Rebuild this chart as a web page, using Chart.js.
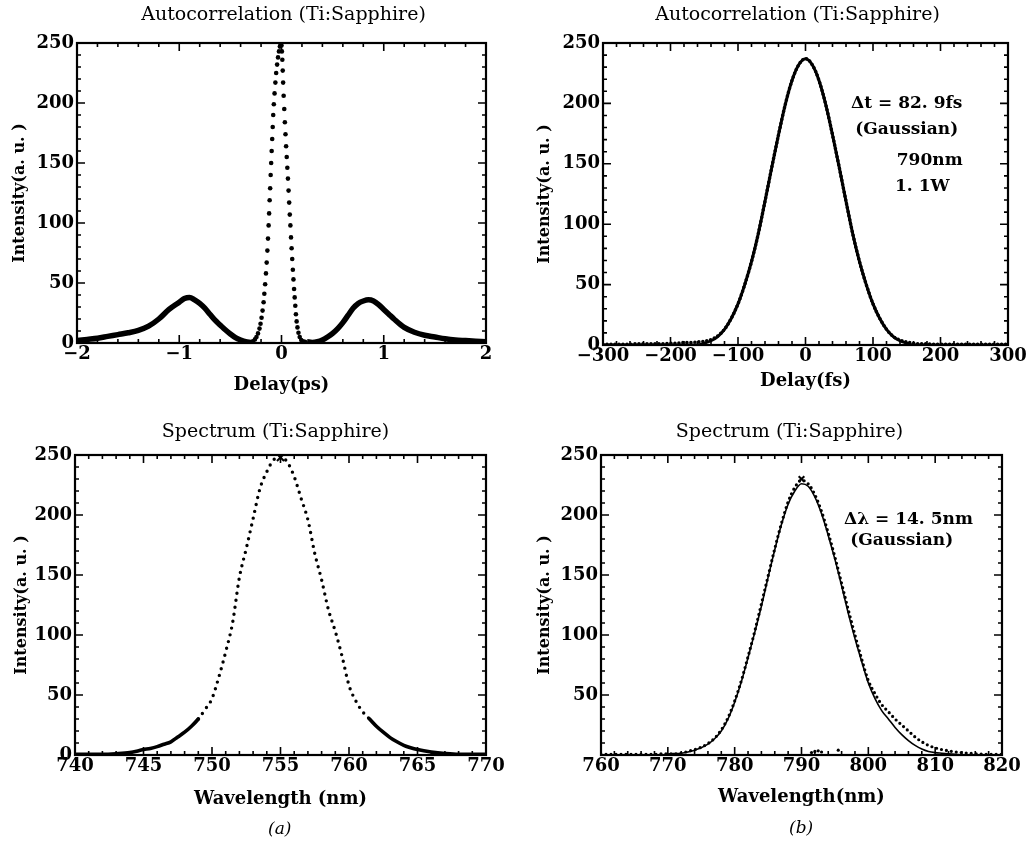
<!DOCTYPE html>
<html>
<head>
<meta charset="utf-8">
<script src="https://cdn.jsdelivr.net/npm/chart.js@4"></script>
<style>
  body { margin: 0; background: #fff; width: 1027px; height: 846px; position: relative; overflow: hidden; }
  .panel { position: absolute; }
  .cap { position: absolute; font: italic 17px "DejaVu Serif", serif; color: #000; }
</style>
</head>
<body>
<div class="panel" style="left:0;top:0"><canvas id="acPs" width="510" height="400"></canvas></div>
<div class="panel" style="left:520px;top:0"><canvas id="acFs" width="507" height="400"></canvas></div>
<div class="panel" style="left:0;top:410px"><canvas id="specA" width="515" height="436"></canvas></div>
<div class="panel" style="left:520px;top:410px"><canvas id="specB" width="507" height="436"></canvas></div>
<div class="cap" style="left:268px;top:818px">(a)</div>
<div class="cap" style="left:789px;top:817px">(b)</div>
<script>
// --- (a) autocorrelation, delay in ps ---
const acLobeLDelay = [-2.0,-1.9,-1.8,-1.7,-1.6,-1.5,-1.4,-1.3,-1.2,-1.1,-1.0,-0.95,-0.9,-0.85,-0.8,-0.75,-0.7,-0.65,-0.6,-0.55,-0.5,-0.45,-0.4,-0.35,-0.3];
const acLobeLInt = [2,3,4,5.5,7,8.5,10.5,14,20,28,34,37,38,36,33,29,24,19,15,11,7.5,4.5,2.5,1,0.5];
const acLobeRDelay = [0.25,0.3,0.35,0.4,0.45,0.5,0.55,0.6,0.65,0.7,0.75,0.8,0.85,0.9,0.95,1.0,1.05,1.1,1.2,1.3,1.4,1.5,1.6,1.7,1.8,1.9,2.0];
const acLobeRInt = [1,0.5,1,2.5,5,8,12,17,23,29,33,35,36,35,32,28,24,20,13,9,6.5,5,3.5,2.5,2,1.5,1];
const acPeakLDelay = [-0.30,-0.28,-0.26,-0.245,-0.23,-0.215,-0.205,-0.195,-0.185,-0.175,-0.168,-0.16,-0.152,-0.145,-0.138,-0.132,-0.126,-0.121,-0.116,-0.111,-0.106,-0.101,-0.096,-0.091,-0.086,-0.081,-0.075,-0.068,-0.06,-0.052,-0.043,-0.034,-0.025,-0.016,-0.008];
const acPeakLInt = [0.5,1.5,3,5,8,12,16,21,27,34,41,49,58,67,77,87,98,108,119,129,140,150,160,170,180,190,199,208,217,225,232,238,243,247,249];
const acPeakRDelay = [0.0,0.004,0.008,0.012,0.016,0.021,0.027,0.033,0.039,0.045,0.051,0.057,0.063,0.069,0.075,0.081,0.087,0.093,0.099,0.105,0.111,0.117,0.123,0.129,0.135,0.141,0.148,0.156,0.166,0.178,0.193,0.21,0.23];
const acPeakRInt = [248,243,236,227,217,206,195,184,174,164,155,146,137,127,117,107,98,88,79,70,61,53,45,38,31,24,18,13,8.5,5,2.5,1.5,1];

// --- (b) autocorrelation, delay in fs ---
const acFsDelay = [-300,-290,-280,-270,-260,-250,-240,-230,-220,-210,-200,-190,-180,-170,-160,-150,-140,-130,-120,-110,-100,-90,-80,-70,-60,-50,-40,-30,-20,-10,0,10,20,30,40,50,60,70,80,90,100,110,120,130,140,150,160,170,180,190,200,210,220,230,240,250,260,270,280,290,300];
const acFsMeas = [0.5,0.5,0.5,0.5,0.5,1,1,1,1,1,1.5,1.5,2,2,2.5,3,4.5,7.5,13,22,34,50,69,92,119,147,174,199,219,232,237,232,219,199,174,147,119,92,69,50,34,22,13,7,4,2.5,1.5,1,1,0.5,0.5,0.5,0.5,0.5,0.5,0.5,0.5,0.5,0.5,0.5,0.5];
const acFsFit = [0,0,0,0,0,0,0,0,0,0,0,0,0,0,0,1.5,3.5,7,13,22,34,50,69,92,119,147,174,199,219,232,237,232,219,199,174,147,119,92,69,50,34,22,13,7,3.5,1.5,0,0,0,0,0,0,0,0,0,0,0,0,0,0,0];

// --- (a) spectrum ---
const specAWl = [740,741,742,743,744,745,745.5,746,746.5,747,747.5,748,748.5,749,749.5,750,750.5,751,751.5,752,752.5,753,753.5,754,754.5,755,755.5,756,756.5,757,757.5,758,758.5,759,759.5,760,760.5,761,761.5,762,762.5,763,763.5,764,764.5,765,766,767,768,769,770];
const specAInt = [0.5,0.5,0.5,1,2,4.5,5.5,7,9,11,15,19,24,30,38,47,65,86,110,148,172,197,222,236,246,249,244,232,214,196,168,146,121,103,82,58,45,36,30,24,19,14.5,11,8,6,4.5,2.5,1.2,0.5,0.5,0.5];
const specAPeakWl = [755];
const specAPeakInt = [248];

// --- (b) spectrum ---
const specBWl = [760,761,762,763,764,765,766,767,768,769,770,771,772,773,774,775,776,777,778,779,780,781,782,783,784,785,786,787,788,789,790,791,792,793,794,795,796,797,798,799,800,801,802,803,804,805,806,807,808,809,810,811,812,813,814,815,816,817,818,819,820];
const specBMeas = [0.5,0.5,0.5,0.5,0.5,0.5,0.5,0.5,0.5,1,1,1,1.5,3,4.5,6.5,9.5,14,21,31,45,62,82,103,126,149,172,193,211,223,229,226,217,203,185,165,143,121,100,80,62,51,42,36,30,25,20,15,11,8,6,4.5,3.5,2.5,2,1.5,1,0.8,0.5,0.5,0.5];
const specBFit = [0,0,0,0,0,0,0,0,0,0,0.8,1.2,1.5,2.5,4,6,9,13.5,20,30,44,61,81,102,124,148,171,192,209,220,226,224,215,201,183,163,141,118,97,78,60,47,37,30,23,17,12,8,5,3,2,1.5,1,0.5,0,0,0,0,0,0,0];
const specBStrayWl = [791.5,792,792.5,793,795.5];
const specBStrayInt = [2,3,3.5,2.5,4];
const specBPeakWl = [790];
const specBPeakInt = [230];

Chart.defaults.font.family = '"DejaVu Serif", serif';
Chart.defaults.color = '#000';

const tickFont = { size: 18, weight: 'bold' };
const xTitleFont = { size: 18, weight: 'bold' };
const yTitleFont = { size: 16, weight: 'bold' };

function pts(xs, ys) {
    return xs.map((x, i) => ({ x: x, y: ys[i] }));
}

function fmt(v) {
    return v < 0 ? '\u2212' + Math.abs(v) : String(v);
}

function onStep(v, step) {
    const r = v / step;
    return Math.abs(r - Math.round(r)) < 1e-6;
}

// frame round the plot and inward tick marks on all four sides
const frameTicks = {
    id: 'frameTicks',
    afterDatasetsDraw(chart, args, opts) {
        const { ctx, chartArea: a, scales: { x, y } } = chart;
        ctx.save();
        ctx.strokeStyle = '#000';
        ctx.lineWidth = 1.6;
        ctx.beginPath();
        const nx = Math.round((x.max - x.min) / opts.xMinor);
        for (let i = 0; i <= nx; i++) {
            const v = x.min + i * opts.xMinor;
            const px = x.getPixelForValue(v);
            const len = onStep(v, opts.xMajor) ? 8 : 4;
            ctx.moveTo(px, a.bottom); ctx.lineTo(px, a.bottom - len);
            ctx.moveTo(px, a.top); ctx.lineTo(px, a.top + len);
        }
        const ny = Math.round((y.max - y.min) / opts.yMinor);
        for (let i = 0; i <= ny; i++) {
            const v = y.min + i * opts.yMinor;
            const py = y.getPixelForValue(v);
            const len = onStep(v, opts.yMajor) ? 8 : 4;
            ctx.moveTo(a.left, py); ctx.lineTo(a.left + len, py);
            ctx.moveTo(a.right, py); ctx.lineTo(a.right - len, py);
        }
        ctx.stroke();
        ctx.lineWidth = 2.2;
        ctx.strokeRect(a.left, a.top, a.right - a.left, a.bottom - a.top);
        ctx.restore();
    }
};

// panel title above the frame and notes placed in data units
const panelText = {
    id: 'panelText',
    afterDraw(chart, args, opts) {
        const { ctx, chartArea: a, scales: { x, y } } = chart;
        ctx.save();
        ctx.fillStyle = '#000';
        ctx.textAlign = 'center';
        ctx.textBaseline = 'middle';
        ctx.font = '19px "DejaVu Serif", serif';
        ctx.fillText(opts.title, (a.left + a.right) / 2 + opts.dx, a.top - opts.gap);
        ctx.font = 'bold 17px "DejaVu Serif", serif';
        (opts.notes || []).forEach(n => {
            ctx.fillText(n.text, x.getPixelForValue(n.x), y.getPixelForValue(n.y));
        });
        ctx.restore();
    }
};

function makePanel(id, cfg) {
    return new Chart(document.getElementById(id), {
        type: 'scatter',
        data: { datasets: cfg.datasets },
        plugins: [frameTicks, panelText],
        options: {
            responsive: false,
            animation: false,
            layout: { padding: cfg.pad },
            plugins: {
                legend: { display: false },
                tooltip: { enabled: false },
                frameTicks: cfg.ticks,
                panelText: cfg.text
            },
            scales: {
                x: {
                    type: 'linear', min: cfg.x.min, max: cfg.x.max,
                    grid: { display: false, drawTicks: false },
                    border: { display: false },
                    ticks: { stepSize: cfg.x.step, autoSkip: false, maxRotation: 0, padding: 1, font: tickFont, color: '#000', callback: fmt },
                    title: { display: true, text: cfg.x.title, font: xTitleFont, color: '#000', padding: { top: 0, bottom: cfg.x.titlePad } },
                    afterFit: s => { s.height = cfg.xH; s.paddingLeft = 0; s.paddingRight = 0; }
                },
                y: {
                    type: 'linear', min: 0, max: 250,
                    grid: { display: false, drawTicks: false },
                    border: { display: false },
                    ticks: { stepSize: 50, padding: 3, font: tickFont, color: '#000',
                        callback: v => (cfg.y.hideZero && v === 0) ? '' : fmt(v) },
                    title: { display: true, text: 'Intensity(a. u. )', font: yTitleFont, color: '#000', padding: { top: cfg.y.titlePad, bottom: 0 } },
                    afterFit: s => { s.width = cfg.yW; s.paddingTop = 0; s.paddingBottom = 0; }
                }
            }
        }
    });
}

const ink = '#000';

makePanel('acPs', {
    pad: { top: 43, right: 24, left: 0, bottom: 0 },
    yW: 77, xH: 57,
    x: { min: -2, max: 2, step: 1, title: 'Delay(ps)', titlePad: 4 },
    y: { titlePad: 10 },
    ticks: { xMinor: 0.2, xMajor: 1, yMinor: 10, yMajor: 50 },
    text: { title: 'Autocorrelation (Ti:Sapphire)', dx: 2, gap: 28 },
    datasets: [
        { data: pts(acLobeLDelay, acLobeLInt), showLine: true, borderColor: ink, borderWidth: 5.5, pointRadius: 0, cubicInterpolationMode: 'monotone' },
        { data: pts(acLobeRDelay, acLobeRInt), showLine: true, borderColor: ink, borderWidth: 5.5, pointRadius: 0, cubicInterpolationMode: 'monotone' },
        { data: pts(acPeakLDelay.concat(acPeakRDelay), acPeakLInt.concat(acPeakRInt)), showLine: false, pointRadius: 2.3, pointBorderWidth: 0, pointBackgroundColor: ink }
    ]
});

makePanel('acFs', {
    pad: { top: 43, right: 19, left: 0, bottom: 0 },
    yW: 83, xH: 55,
    x: { min: -300, max: 300, step: 100, title: 'Delay(fs)', titlePad: 8 },
    y: { titlePad: 15 },
    ticks: { xMinor: 20, xMajor: 100, yMinor: 10, yMajor: 50 },
    text: {
        title: 'Autocorrelation (Ti:Sapphire)', dx: -8, gap: 28,
        notes: [
            { text: '\u0394t = 82. 9fs', x: 150, y: 200 },
            { text: '(Gaussian)', x: 150, y: 178 },
            { text: '790nm', x: 184, y: 153 },
            { text: '1. 1W', x: 173, y: 131 }
        ]
    },
    datasets: [
        { data: pts(acFsDelay, acFsFit), showLine: true, borderColor: ink, borderWidth: 3, pointRadius: 0, cubicInterpolationMode: 'monotone' },
        { data: pts(acFsDelay, acFsMeas), showLine: true, borderColor: ink, borderWidth: 3.6, borderDash: [0, 4], borderCapStyle: 'round', pointRadius: 0, cubicInterpolationMode: 'monotone' }
    ]
});

makePanel('specA', {
    pad: { top: 45, right: 29, left: 0, bottom: 0 },
    yW: 75, xH: 91,
    x: { min: 740, max: 770, step: 5, title: 'Wavelength (nm)', titlePad: 36 },
    y: { titlePad: 12 },
    ticks: { xMinor: 1, xMajor: 5, yMinor: 10, yMajor: 50 },
    text: { title: 'Spectrum (Ti:Sapphire)', dx: -5, gap: 23 },
    datasets: [
        {
            data: pts(specAWl, specAInt), showLine: true, borderColor: ink, borderWidth: 3.6, borderCapStyle: 'round',
            pointRadius: 0, cubicInterpolationMode: 'monotone',
            segment: { borderDash: c => (c.p0.parsed.y > 28 && c.p1.parsed.y > 28) ? [0, 7] : undefined, borderWidth: c => (c.p0.parsed.y > 28 && c.p1.parsed.y > 28) ? 3.4 : undefined }
        },
        { data: pts(specAPeakWl, specAPeakInt), showLine: false, pointStyle: 'crossRot', pointRadius: 5, pointBorderWidth: 2, pointBorderColor: ink }
    ]
});

makePanel('specB', {
    pad: { top: 45, right: 25, left: 0, bottom: 0 },
    yW: 81, xH: 91,
    x: { min: 760, max: 820, step: 10, title: 'Wavelength(nm)', titlePad: 38 },
    y: { titlePad: 15, hideZero: true },
    ticks: { xMinor: 2, xMajor: 10, yMinor: 10, yMajor: 50 },
    text: {
        title: 'Spectrum (Ti:Sapphire)', dx: -12, gap: 23,
        notes: [
            { text: '\u0394\u03bb = 14. 5nm', x: 806, y: 196 },
            { text: '(Gaussian)', x: 805, y: 179 }
        ]
    },
    datasets: [
        { data: pts(specBWl, specBFit), showLine: true, borderColor: ink, borderWidth: 1.6, pointRadius: 0, cubicInterpolationMode: 'monotone' },
        { data: pts(specBWl, specBMeas), showLine: true, borderColor: ink, borderWidth: 3.2, borderDash: [0, 5], borderCapStyle: 'round', pointRadius: 0, cubicInterpolationMode: 'monotone' },
        { data: pts(specBStrayWl, specBStrayInt), showLine: false, pointRadius: 1.6, pointBorderWidth: 0, pointBackgroundColor: ink },
        { data: pts(specBPeakWl, specBPeakInt), showLine: false, pointStyle: 'crossRot', pointRadius: 4, pointBorderWidth: 2, pointBorderColor: ink }
    ]
});
</script>
</body>
</html>
